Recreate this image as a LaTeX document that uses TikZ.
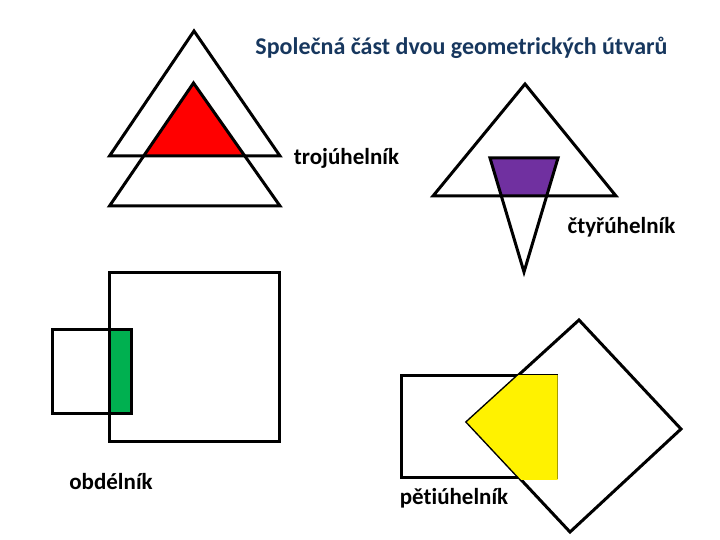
\documentclass[tikz,border=0pt]{standalone}
\usepackage{fontspec}
\setmainfont{Carlito}[Ligatures={NoCommon}]
\definecolor{nadpismodra}{RGB}{23,55,94}
\definecolor{fialova}{RGB}{112,48,160}
\definecolor{zelena}{RGB}{0,176,80}

\begin{document}
\begin{tikzpicture}[x=1pt, y=-1pt,
    obrys/.style={draw, line width=3pt, line join=miter},
    popis/.style={font=\bfseries\fontsize{23}{26}\selectfont, inner sep=0pt}]
  \useasboundingbox (0,0) rectangle (720,540);

  % trojuhelniky
  \begin{scope}
    \clip (194,31) -- (280,156) -- (109.5,156) -- cycle;
    \fill[red] (193.5,83) -- (280,206) -- (109.5,206) -- cycle;
  \end{scope}
  \draw[obrys] (194,31) -- (280,156) -- (109.5,156) -- cycle;
  \draw[obrys] (193.5,83) -- (280,206) -- (109.5,206) -- cycle;

  % ctyruhelnik
  \begin{scope}
    \clip (525,84) -- (616,196) -- (433,196) -- cycle;
    \fill[fialova] (490,158) -- (558,158) -- (524,272) -- cycle;
  \end{scope}
  \draw[obrys] (525,84) -- (616,196) -- (433,196) -- cycle;
  \draw[obrys] (490,158) -- (558,158) -- (524,272) -- cycle;

  % obdelniky
  \fill[zelena] (109,329.5) rectangle (131,413.5);
  \draw[obrys] (109,272.5) rectangle (279,441.5);
  \draw[obrys] (52,329.5) rectangle (131,413.5);

  % petiuhelnik
  \draw[obrys] (401.5,375) rectangle (556,477.5);
  \draw[obrys] (579,320) -- (681,429) -- (570,532) -- (467,422) -- cycle;
  \begin{scope}
    \clip (401.5,375) rectangle (557.5,479);
    \fill[yellow] (579,320) -- (681,429) -- (570,532) -- (467,422) -- cycle;
  \end{scope}

  % texty
  \node[popis, text=nadpismodra, font=\bfseries\fontsize{24}{28}\selectfont]
    (nadpis) at (461.5,48) {Společná část dvou geometrických útvarů};
  \node[popis] (troj) at (346.5,158) {trojúhelník};
  \node[popis] (ctyr) at (621.5,227) {čtyřúhelník};
  \node[popis] (obd) at (111,482) {obdélník};
  \node[popis] (pet) at (454,498) {pětiúhelník};
\end{tikzpicture}
\end{document}
